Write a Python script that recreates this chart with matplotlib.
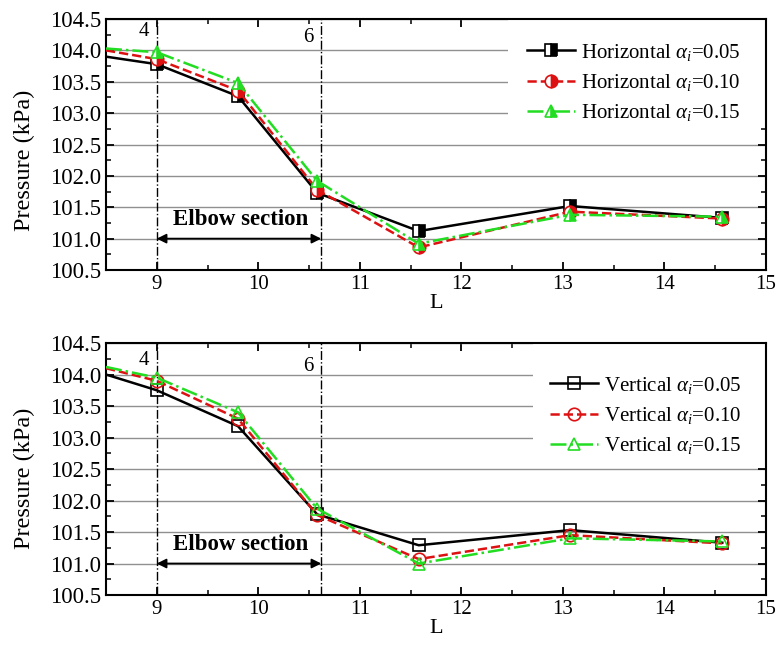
import matplotlib
matplotlib.use('Agg')
import matplotlib.pyplot as plt
from matplotlib.ticker import MultipleLocator, FormatStrFormatter
from matplotlib.patches import Rectangle

plt.rcParams['font.family'] = 'Liberation Serif'
plt.rcParams['mathtext.fontset'] = 'custom'
plt.rcParams['mathtext.rm'] = 'Liberation Serif'
plt.rcParams['mathtext.it'] = 'Liberation Serif:italic'

# positions along the pipe (first point sits on the left edge, no marker)
L = [8.5, 9.0, 9.8, 10.58, 11.58, 13.07, 14.57]

# horizontal pipe
h_005 = [103.90, 103.78, 103.27, 101.73, 101.12, 101.52, 101.33]
h_010 = [104.00, 103.86, 103.36, 101.78, 100.86, 101.43, 101.32]
h_015 = [104.03, 103.97, 103.48, 101.92, 100.92, 101.38, 101.35]

# vertical pipe
v_005 = [104.00, 103.75, 103.18, 101.78, 101.29, 101.53, 101.33]
v_010 = [104.10, 103.90, 103.30, 101.77, 101.07, 101.45, 101.32]
v_015 = [104.12, 103.95, 103.40, 101.87, 101.00, 101.40, 101.35]

alphas = ['0.05', '0.10', '0.15']
elbow_start, elbow_end = 9.0, 10.62
green = '#22dd22'
red = '#dd1111'

fig = plt.figure(figsize=(7.77, 6.53), dpi=100)
ax1 = fig.add_axes([0.1364, 0.5865, 0.8494, 0.3844])
ax2 = fig.add_axes([0.1364, 0.0888, 0.8494, 0.3859])


def draw(ax, data, name, fill, label_y, leg_anchor, mask, ylab_y):
    styles = [('black', '-', 's'), (red, '--', 'o'), (green, '-.', '^')]
    for (c, ls, m), y, a in zip(styles, data, alphas):
        ax.plot(L, y, color=c, linestyle=ls, linewidth=1.8, marker=m,
                markersize=9, fillstyle=fill, markerfacecolor=c if fill != 'none' else 'none',
                markerfacecoloralt='white', markeredgecolor=c, markeredgewidth=1.2,
                markevery=slice(1, None), zorder=3,
                label=name + r' $\alpha_i$=' + a)

    # white patch hiding the grid behind the legend
    ax.add_patch(Rectangle((mask[0], mask[1]), 1 - mask[0], 1 - mask[1],
                           transform=ax.transAxes, facecolor='white',
                           edgecolor='none', zorder=1.5))

    ax.axvline(elbow_start, color='black', linestyle='-.', linewidth=1, zorder=2)
    ax.axvline(elbow_end, color='black', linestyle='-.', linewidth=1, zorder=2)
    ax.text(elbow_start - 0.08, label_y[0], '4', fontsize=15, ha='right', va='center')
    ax.text(elbow_end - 0.08, label_y[1], '6', fontsize=15, ha='right', va='center')
    ax.annotate('', xy=(elbow_start, 101.0), xytext=(elbow_end, 101.0),
                arrowprops=dict(arrowstyle='<|-|>', color='black', lw=1.3,
                                mutation_scale=14, shrinkA=0, shrinkB=0))
    ax.text(9.83, 101.3, 'Elbow section', fontsize=16.5, fontweight='bold',
            ha='center', va='center')

    ax.set_xlim(8.5, 15)
    ax.set_ylim(100.5, 104.5)
    ax.xaxis.set_major_locator(MultipleLocator(1))
    ax.xaxis.set_minor_locator(MultipleLocator(0.5))
    ax.yaxis.set_major_locator(MultipleLocator(0.5))
    ax.yaxis.set_minor_locator(MultipleLocator(0.25))
    ax.yaxis.set_major_formatter(FormatStrFormatter('%.1f'))
    ax.tick_params(which='both', direction='in', top=True, right=True)
    ax.tick_params(axis='x', labelsize=15)
    ax.tick_params(axis='y', labelsize=16.5)
    ax.tick_params(which='major', length=6, width=1.3)
    ax.tick_params(which='minor', length=3.5, width=1.1)
    ax.yaxis.grid(True, color='#909090', linewidth=1)
    ax.set_axisbelow(True)
    for s in ax.spines.values():
        s.set_linewidth(1.5)
    ax.set_ylabel('Pressure (kPa)', fontsize=17.5)
    ax.yaxis.set_label_coords(-0.108, ylab_y)
    ax.set_xlabel('L', fontsize=16, labelpad=0)

    ax.legend(loc='upper left', bbox_to_anchor=leg_anchor, fontsize=15,
              frameon=False, handlelength=2.3, labelspacing=0.45,
              handletextpad=0.3, borderaxespad=0.0, borderpad=0.0)


draw(ax1, [h_005, h_010, h_015], 'Horizontal', 'right', (104.3, 104.2),
     (0.638, 0.91), (0.609, 0.57), 0.438)
draw(ax2, [v_005, v_010, v_015], 'Vertical', 'none', (104.22, 104.12),
     (0.673, 0.875), (0.647, 0.53), 0.464)

fig.savefig('out.png', dpi=100)
